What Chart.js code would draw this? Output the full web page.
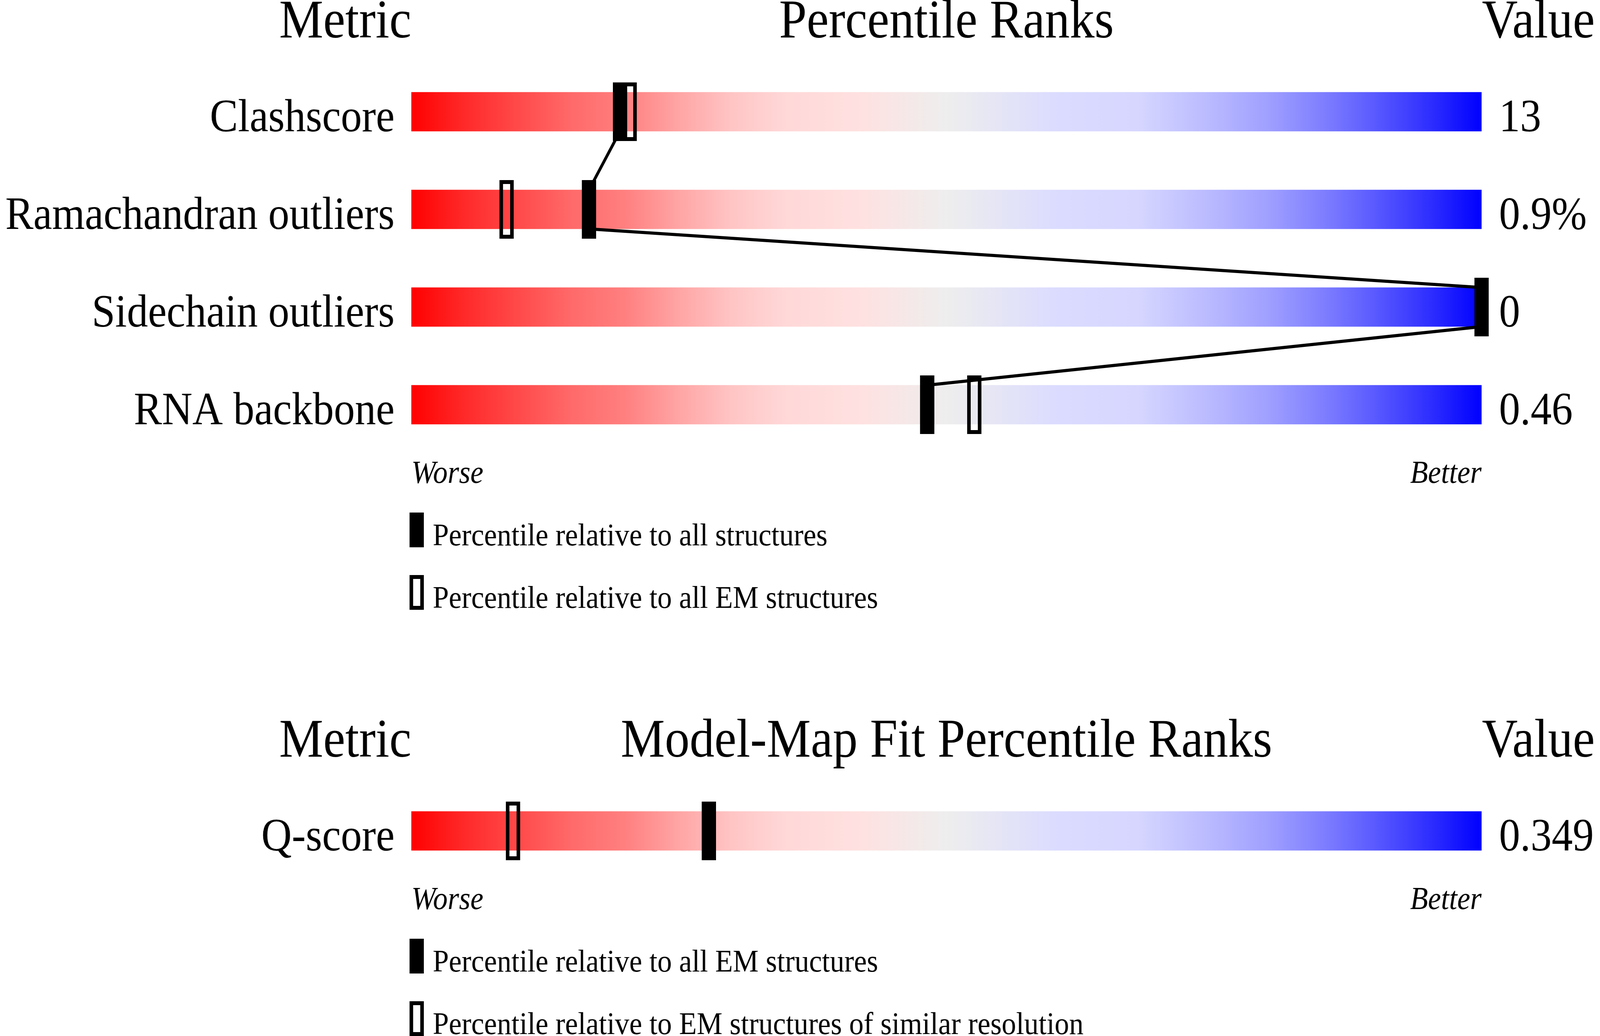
<!DOCTYPE html>
<html>
<head>
<meta charset="utf-8">
<script src="https://cdn.jsdelivr.net/npm/chart.js@4.4.1/dist/chart.umd.min.js"></script>
<style>
html, body { margin: 0; padding: 0; background: #fff; overflow: hidden; }
/* the drawing is laid out on a 4485 wide plane and squeezed to the viewport width */
#geom { position: absolute; left: 0; top: 0; width: 100vw !important; height: 1650px !important; }
#fit { position: absolute; left: 0; top: 1650px; width: 100vw !important; height: 1002px !important; }
</style>
</head>
<body>
<canvas id="geom" width="4485" height="1650"></canvas>
<canvas id="fit" width="4485" height="1002"></canvas>
<script>
// geometry section
const metrics = ['Clashscore', 'Ramachandran outliers', 'Sidechain outliers', 'RNA backbone'];
const metricValues = ['13', '0.9%', '0', '0.46'];
const pctAll = [19.5, 16.6, 100, 48.2];      // percentile relative to all structures
const pctEM = [20.4, 8.9, 100, 52.6];        // percentile relative to all EM structures
const geomLegend = ['Percentile relative to all structures', 'Percentile relative to all EM structures'];

// model-map fit section
const fitMetrics = ['Q-score'];
const fitValues = ['0.349'];
const fitPctAllEM = [27.8];                  // relative to all EM structures
const fitPctSimRes = [9.5];                  // relative to EM structures of similar resolution
const fitLegend = ['Percentile relative to all EM structures', 'Percentile relative to EM structures of similar resolution'];

const SERIF = '"Liberation Serif", "DejaVu Serif", serif';

function markerCanvas(filled, w, h) {
    const c = document.createElement('canvas');
    c.width = w;
    c.height = h;
    const g = c.getContext('2d');
    g.fillStyle = '#000';
    g.strokeStyle = '#000';
    if (filled) {
        g.fillRect(0, 0, w, h);
    } else {
        g.lineWidth = 10;
        g.strokeRect(5, 5, w - 10, h - 10);
    }
    return c;
}
const filledMarker = markerCanvas(true, 40, 150);
const openMarker = markerCanvas(false, 40, 150);

function sliderGradient(context) {
    const chart = context.chart;
    if (!chart.chartArea) return '#eee';
    const xs = chart.scales.x;
    const g = chart.ctx.createLinearGradient(xs.getPixelForValue(0), 0, xs.getPixelForValue(100), 0);
    g.addColorStop(0.00, 'rgb(255,0,0)');
    g.addColorStop(0.05, 'rgb(255,42,42)');
    g.addColorStop(0.10, 'rgb(255,74,74)');
    g.addColorStop(0.15, 'rgb(255,106,106)');
    g.addColorStop(0.20, 'rgb(255,128,128)');
    g.addColorStop(0.25, 'rgb(255,165,165)');
    g.addColorStop(0.30, 'rgb(255,197,197)');
    g.addColorStop(0.35, 'rgb(255,216,216)');
    g.addColorStop(0.42, 'rgb(255,225,225)');
    g.addColorStop(0.50, 'rgb(238,238,238)');
    g.addColorStop(0.60, 'rgb(220,220,255)');
    g.addColorStop(0.68, 'rgb(214,214,255)');
    g.addColorStop(0.75, 'rgb(184,184,255)');
    g.addColorStop(0.80, 'rgb(160,160,255)');
    g.addColorStop(0.85, 'rgb(128,128,255)');
    g.addColorStop(0.90, 'rgb(90,90,255)');
    g.addColorStop(0.95, 'rgb(48,48,255)');
    g.addColorStop(1.00, 'rgb(0,0,255)');
    return g;
}

function textPlugin(cfg) {
    return {
        id: 'sliderText',
        afterDraw(chart) {
            const ctx = chart.ctx;
            const xs = chart.scales.x, ys = chart.scales.y;
            const left = xs.getPixelForValue(0), right = xs.getPixelForValue(100);
            const first = ys.getPixelForValue(0);
            const last = ys.getPixelForValue(cfg.labels.length - 1);
            ctx.save();
            ctx.fillStyle = '#000';
            ctx.strokeStyle = '#000';
            ctx.textBaseline = 'alphabetic';

            // headers
            ctx.font = '139px ' + SERIF;
            ctx.textAlign = 'right';
            ctx.fillText('Metric', left, first - 190);
            ctx.textAlign = 'center';
            ctx.fillText(cfg.title, (left + right) / 2, first - 190);
            ctx.textAlign = 'left';
            ctx.fillText('Value', right + 1, first - 190);

            // row labels and values
            ctx.font = '118px ' + SERIF;
            cfg.labels.forEach(function(lab, i) {
                const y = ys.getPixelForValue(i) + 50;
                ctx.textAlign = 'right';
                ctx.fillText(lab, left - 47, y);
                ctx.textAlign = 'left';
                ctx.fillText(cfg.values[i], right + 49, y);
            });

            // worse / better
            ctx.font = 'italic 82px ' + SERIF;
            ctx.textAlign = 'left';
            ctx.fillText('Worse', left, last + 200);
            ctx.textAlign = 'right';
            ctx.fillText('Better', right, last + 200);

            // legend
            ctx.font = '81px ' + SERIF;
            ctx.textAlign = 'left';
            cfg.legend.forEach(function(txt, k) {
                const top = last + 276 + k * 160;
                if (k === 0) {
                    ctx.fillRect(left - 5, top, 40, 89);
                } else {
                    ctx.lineWidth = 10;
                    ctx.strokeRect(left, top + 5, 30, 79);
                }
                ctx.fillText(txt, left + 60, top + 84);
            });
            ctx.restore();
        }
    };
}

function makeSlider(canvasId, labels, values, filledPct, openPct, title, legend, pad) {
    const rows = labels.map(function(_, i) { return i; });
    const datasets = [];
    datasets.push({
        type: 'scatter',
        data: rows.map(function(i) { return {x: filledPct[i], y: i}; }),
        pointStyle: filledMarker,
        pointRadius: 3,
        clip: false,
        order: 1
    });
    datasets.push({
        type: 'scatter',
        data: rows.map(function(i) { return {x: openPct[i], y: i}; }),
        pointStyle: openMarker,
        pointRadius: 3,
        clip: false,
        order: 2
    });
    if (labels.length > 1) {
        // joins the filled markers: bottom edge of one bar to top edge of the next
        const pts = [];
        rows.forEach(function(i) {
            if (i > 0) pts.push({x: filledPct[i], y: i - 0.2});
            if (i < rows.length - 1) pts.push({x: filledPct[i], y: i + 0.2});
        });
        datasets.push({
            type: 'line',
            data: pts,
            borderColor: '#000',
            borderWidth: 8,
            pointRadius: 0,
            fill: false,
            tension: 0,
            clip: false,
            order: 3
        });
    }
    datasets.push({
        type: 'bar',
        indexAxis: 'y',
        data: rows.map(function(i) { return {x: [0, 100], y: i}; }),
        backgroundColor: sliderGradient,
        borderWidth: 0,
        barThickness: 100,
        order: 4
    });

    return new Chart(document.getElementById(canvasId).getContext('2d'), {
        type: 'bar',
        data: { datasets: datasets },
        options: {
            responsive: false,
            devicePixelRatio: 1,
            animation: false,
            events: [],
            layout: { padding: pad },
            plugins: {
                legend: { display: false },
                tooltip: { enabled: false },
                title: { display: false }
            },
            scales: {
                x: { type: 'linear', min: 0, max: 100, offset: false, display: false },
                y: { type: 'linear', min: -0.5, max: labels.length - 0.5, offset: false, reverse: true, display: false }
            }
        },
        plugins: [textPlugin({labels: labels, values: values, title: title, legend: legend})]
    });
}

makeSlider('geom', metrics, metricValues, pctAll, pctEM, 'Percentile Ranks', geomLegend,
    {left: 1153, right: 332, top: 161, bottom: 489});
makeSlider('fit', fitMetrics, fitValues, fitPctAllEM, fitPctSimRes, 'Model-Map Fit Percentile Ranks', fitLegend,
    {left: 1153, right: 332, top: 352, bottom: 400});
</script>
</body>
</html>
